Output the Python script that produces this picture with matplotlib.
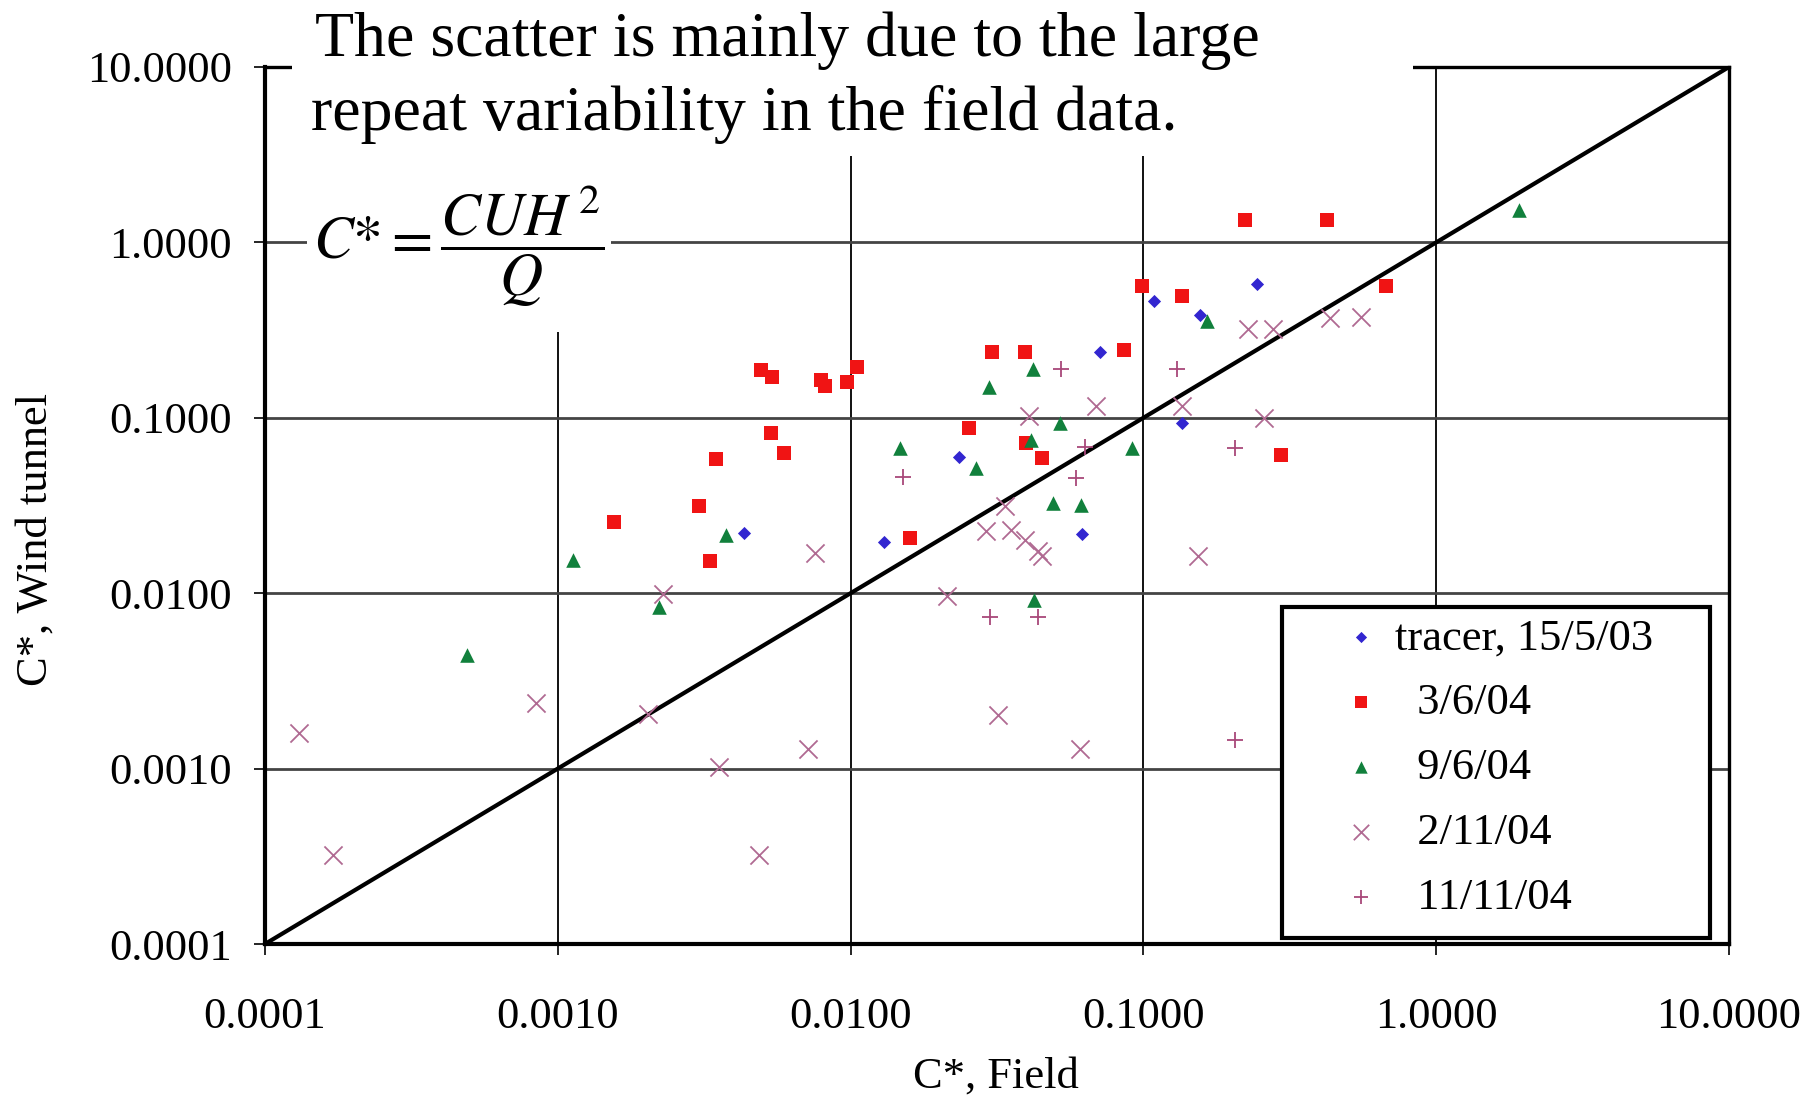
import matplotlib
matplotlib.use("Agg")
import matplotlib.pyplot as plt
from matplotlib.patches import Rectangle

plt.rcParams['font.family'] = ['Liberation Serif', 'DejaVu Serif']
plt.rcParams['mathtext.fontset'] = 'stix'

# ---------------- data ----------------
tracer_x = [0.00433, 0.0130, 0.0234, 0.0615, 0.071, 0.109, 0.156, 0.244, 0.135]
tracer_y = [0.0221, 0.0196, 0.0599, 0.0218, 0.237, 0.465, 0.388, 0.578, 0.094]

d0306_x = [0.00155, 0.0033, 0.00303, 0.00346, 0.00536, 0.00592, 0.00495, 0.00539,
           0.0079, 0.0082, 0.0097, 0.0105, 0.016, 0.0253, 0.0303, 0.0394, 0.0396,
           0.045, 0.086, 0.099, 0.135, 0.222, 0.424, 0.675, 0.295]
d0306_y = [0.0256, 0.0153, 0.0314, 0.0586, 0.0821, 0.0634, 0.187, 0.171,
           0.164, 0.152, 0.159, 0.195, 0.0206, 0.0877, 0.237, 0.237, 0.0714,
           0.0591, 0.242, 0.565, 0.497, 1.35, 1.35, 0.565, 0.061]

d0906_x = [0.00049, 0.00113, 0.00221, 0.00374, 0.0148, 0.0269, 0.0296, 0.042,
           0.0519, 0.0412, 0.0912, 0.0492, 0.0614, 0.0422, 0.1645, 1.92]
d0906_y = [0.00444, 0.0155, 0.00835, 0.0216, 0.0677, 0.0514, 0.149, 0.19,
           0.0928, 0.0752, 0.0675, 0.0325, 0.032, 0.0092, 0.356, 1.54]

d0211_x = [0.000131, 0.000171, 0.000845, 0.00204, 0.00229, 0.00354, 0.00487,
           0.00716, 0.00755, 0.0213, 0.0319, 0.0607, 0.0291, 0.0336, 0.0352,
           0.0395, 0.0437, 0.0449, 0.0407, 0.069, 0.135, 0.154, 0.258, 0.227,
           0.278, 0.434, 0.553]
d0211_y = [0.0016, 0.000321, 0.00236, 0.00204, 0.0099, 0.00102, 0.00032,
           0.00129, 0.0169, 0.0097, 0.00202, 0.0013, 0.0225, 0.0313, 0.0229,
           0.0202, 0.0173, 0.0162, 0.102, 0.117, 0.117, 0.0163, 0.1, 0.322,
           0.322, 0.372, 0.378]

d1111_x = [0.0151, 0.030, 0.0438, 0.0525, 0.0588, 0.063, 0.13, 0.205, 0.205]
d1111_y = [0.046, 0.0073, 0.0073, 0.19, 0.0455, 0.068, 0.19, 0.067, 0.00145]

line_x = [0.0001, 10.0]
line_y = [0.0001, 10.0]

ticks = [0.0001, 0.001, 0.01, 0.1, 1.0, 10.0]
tick_labels = ['0.0001', '0.0010', '0.0100', '0.1000', '1.0000', '10.0000']

labels = ['tracer, 15/5/03', '  3/6/04', '  9/6/04', '  2/11/04', '  11/11/04']

# ---------------- figure ----------------
W, H = 1816, 1097
fig = plt.figure(figsize=(W / 100, H / 100), dpi=100)
L, R, T, B = 265, 1729, 67, 944
ax = fig.add_axes([L / W, 1 - B / H, (R - L) / W, (B - T) / H])

def ax_x(px):
    return (px - L) / (R - L)

def ax_y(py):
    return (B - py) / (B - T)

ax.set_xscale('log')
ax.set_yscale('log')
ax.set_xlim(1e-4, 10)
ax.set_ylim(1e-4, 10)
ax.set_xticks(ticks)
ax.set_xticklabels(tick_labels)
ax.set_yticks(ticks)
ax.set_yticklabels(tick_labels)
ax.minorticks_off()
ax.tick_params(axis='both', which='major', labelsize=32, length=8, width=1.2,
               color='black', direction='out')
ax.tick_params(axis='x', pad=30)
ax.tick_params(axis='y', pad=16)

ax.xaxis.grid(True, color='#111111', lw=1.4)
ax.yaxis.grid(True, color='#444444', lw=2.0)
ax.set_axisbelow(True)
for name, s in ax.spines.items():
    s.set_linewidth(3.0 if name in ('left', 'bottom') else 2.4)
    s.set_color('black')

ax.plot(line_x, line_y, color='black', lw=3.0, zorder=2)

ax.scatter(tracer_x, tracer_y, marker='D', s=45, color='#3226d0', zorder=3,
           label=labels[0], linewidths=0)
ax.scatter(d0306_x, d0306_y, marker='s', s=100, color='#f01414', zorder=3,
           label=labels[1], linewidths=0)
ax.scatter(d0906_x, d0906_y, marker='^', s=110, color='#11803c', zorder=3,
           label=labels[2], linewidths=0)
ax.scatter(d0211_x, d0211_y, marker='x', s=170, color='#b06a92', zorder=3,
           label=labels[3], linewidths=1.3)
ax.scatter(d1111_x, d1111_y, marker='+', s=130, color='#a8487a', zorder=3,
           label=labels[4], linewidths=1.3)

# legend frame drawn separately
frame = Rectangle((ax_x(1282), ax_y(938)), ax_x(1710) - ax_x(1282),
                  ax_y(607) - ax_y(938), transform=ax.transAxes,
                  facecolor='white', edgecolor='black', lw=3.0, zorder=4)
ax.add_patch(frame)

leg = ax.legend(loc='upper left', bbox_to_anchor=(ax_x(1339), ax_y(618)),
                borderaxespad=0, borderpad=0, fontsize=32, frameon=False,
                handlelength=1.0, handletextpad=0.26, labelspacing=0.56,
                scatterpoints=1, markerscale=0.85)
leg.set_zorder(5)

# axis labels
fig.text(996 / W, 1 - 1088 / H, 'C*, Field', fontsize=32, ha='center',
         va='baseline')
fig.text(36 / W, 1 - 540 / H, 'C*, Wind tunnel', fontsize=32, ha='center',
         va='center', rotation=90)

# white masks for the annotation text
fig.patches.append(Rectangle((292 / W, 1 - 156 / H), (1413 - 292) / W, 156 / H,
                             transform=fig.transFigure, facecolor='white',
                             edgecolor='none', zorder=5))
fig.patches.append(Rectangle((307 / W, 1 - 332 / H), (611 - 307) / W,
                             (332 - 156) / H, transform=fig.transFigure,
                             facecolor='white', edgecolor='none', zorder=5))

fig.text(315 / W, 1 - 56 / H, 'The scatter is mainly due to the large',
         fontsize=46, ha='left', va='baseline', zorder=6)
fig.text(311 / W, 1 - 130 / H, 'repeat variability in the field data.',
         fontsize=46, ha='left', va='baseline', zorder=6)
fig.text(313 / W, 1 - 246 / H, r'$C{*}=\dfrac{CUH^{\,2}}{Q}$',
         fontsize=43, ha='left', va='center', zorder=6)

fig.savefig('out.png', dpi=100, facecolor='white')
